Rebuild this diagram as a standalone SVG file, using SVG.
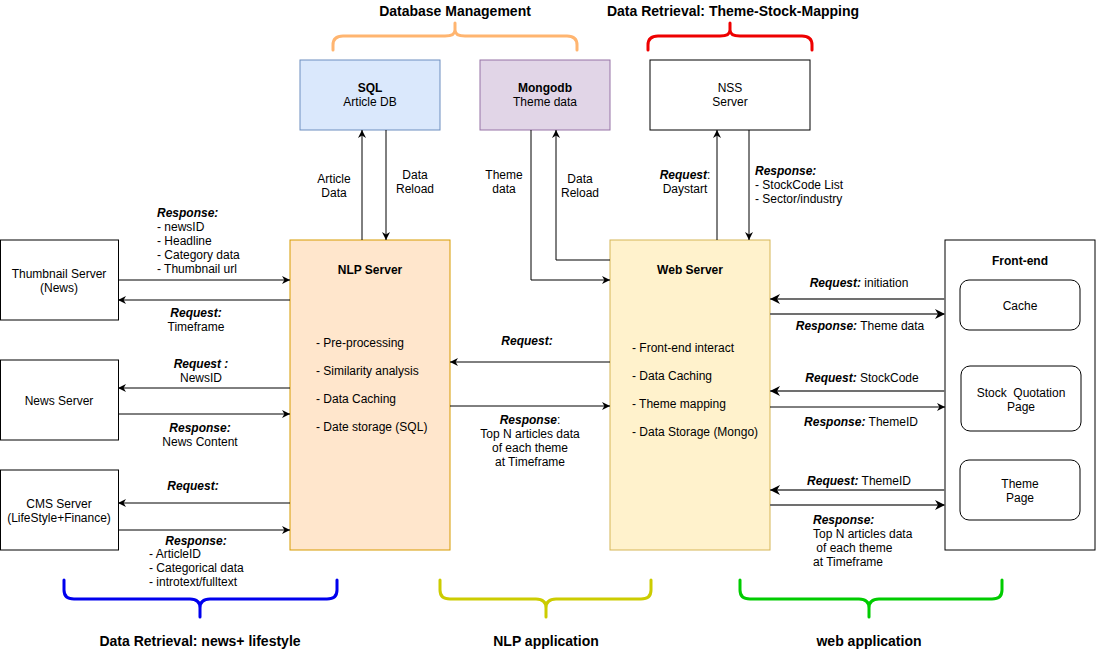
<svg xmlns="http://www.w3.org/2000/svg" width="1096" height="651" viewBox="0 0 1096 651">
<style>
text{font-family:"Liberation Sans",Arial,sans-serif;font-size:12px;fill:#000}
.c{text-anchor:middle}
.b{font-weight:bold}
.bi{font-weight:bold;font-style:italic}
.t{font-size:14px;font-weight:bold}
.box{fill:#fff;stroke:#000;stroke-width:1}
.ln{fill:none;stroke:#000;stroke-width:1}
.gr{fill:none;stroke:#707070;stroke-width:2}
.brace{fill:none;stroke-width:3;stroke-linecap:round;stroke-linejoin:round}
</style>
<defs>
<marker id="a" viewBox="0 0 10 10" refX="10" refY="5" markerWidth="8" markerHeight="8" markerUnits="userSpaceOnUse" orient="auto">
<path d="M0,0 L10,5 L0,10 L3,5 z" fill="#000"/>
</marker>
<marker id="ag" viewBox="0 0 10 10" refX="10" refY="5" markerWidth="10" markerHeight="10" markerUnits="userSpaceOnUse" orient="auto">
<path d="M0,0 L10,5 L0,10 L3,5 z" fill="#000"/>
</marker>
</defs>
<rect width="1096" height="651" fill="#fff"/>

<g id="braces">
<text class="t c" x="455" y="16">Database Management</text>
<path class="brace" stroke="#FFB570" d="M333,50 L333,45 Q333,36 343,36 L445,36 Q455,36 455,30 L455,23 M455,30 Q455,36 465,36 L567,36 Q577,36 577,45 L577,50"/>
<text class="t c" x="733" y="16">Data Retrieval: Theme-Stock-Mapping</text>
<path class="brace" stroke="#EE0000" d="M648,50 L648,45 Q648,36 658,36 L720,36 Q730,36 730,30 L730,23 M730,30 Q730,36 740,36 L802,36 Q812,36 812,45 L812,50"/>
<path class="brace" stroke="#0000EE" d="M64,580 L64,590 Q64,599 74,599 L190,599 Q200,599 200,608 L200,617 M200,608 Q200,599 210,599 L327,599 Q337,599 337,590 L337,580"/>
<text class="t c" x="200" y="646">Data Retrieval: news+ lifestyle</text>
<path class="brace" stroke="#CCCC00" d="M440,580 L440,590 Q440,599 450,599 L536,599 Q546,599 546,608 L546,617 M546,608 Q546,599 556,599 L641,599 Q651,599 651,590 L651,580"/>
<text class="t c" x="546" y="646">NLP application</text>
<path class="brace" stroke="#00CC00" d="M740,580 L740,590 Q740,599 750,599 L859,599 Q869,599 869,608 L869,617 M869,608 Q869,599 879,599 L992,599 Q1002,599 1002,590 L1002,580"/>
<text class="t c" x="869" y="646">web application</text>
</g>

<g id="sql">
<rect x="300" y="60" width="140" height="70" fill="#dae8fc" stroke="#6c8ebf"/>
<text class="c b" x="370" y="92">SQL</text>
<text class="c" x="370" y="106">Article DB</text>
</g>
<g id="mongodb">
<rect x="480" y="60" width="130" height="70" fill="#e1d5e7" stroke="#9673a6"/>
<text class="c b" x="545" y="92">Mongodb</text>
<text class="c" x="545" y="106">Theme data</text>
</g>
<g id="nss">
<rect class="box" x="650" y="60" width="160" height="70"/>
<text class="c" x="730" y="92">NSS</text>
<text class="c" x="730" y="106">Server</text>
</g>

<g id="thumbnail">
<rect class="box" x="0.5" y="240" width="118" height="80"/>
<text class="c" x="59" y="278">Thumbnail Server</text>
<text class="c" x="59" y="292">(News)</text>
</g>
<g id="news">
<rect class="box" x="0.5" y="360" width="118" height="80"/>
<text class="c" x="59" y="405">News Server</text>
</g>
<g id="cms">
<rect class="box" x="0.5" y="470" width="118" height="80"/>
<text class="c" x="59" y="508">CMS Server</text>
<text class="c" x="59" y="522">(LifeStyle+Finance)</text>
</g>

<g id="nlp">
<rect x="290" y="240" width="160" height="310" fill="#ffe6cc" stroke="#d79b00"/>
<text class="c b" x="370" y="274">NLP Server</text>
<text x="316" y="347">- Pre-processing</text>
<text x="316" y="375">- Similarity analysis</text>
<text x="316" y="403">- Data Caching</text>
<text x="316" y="431">- Date storage (SQL)</text>
</g>

<g id="web">
<rect x="610" y="240" width="160" height="310" fill="#fff2cc" stroke="#d6b656"/>
<text class="c b" x="690" y="274">Web Server</text>
<text x="632" y="352">- Front-end interact</text>
<text x="632" y="380">- Data Caching</text>
<text x="632" y="408">- Theme mapping</text>
<text x="632" y="436">- Data Storage (Mongo)</text>
</g>

<g id="frontend">
<rect class="box" x="945" y="240" width="150" height="310"/>
<text class="c b" x="1020" y="265">Front-end</text>
<rect class="box" x="960" y="280" width="120" height="50" rx="9"/>
<text class="c" x="1020" y="310">Cache</text>
<rect class="box" x="961" y="366" width="120" height="65" rx="9"/>
<text class="c" x="1021" y="397" xml:space="preserve">Stock  Quotation</text>
<text class="c" x="1021" y="411">Page</text>
<rect class="box" x="960" y="460" width="120" height="60" rx="9"/>
<text class="c" x="1020" y="488">Theme</text>
<text class="c" x="1020" y="502">Page</text>
</g>

<g id="connectors">
<path class="ln" d="M362,240 L362,130" marker-end="url(#a)"/>
<path class="ln" d="M386,130 L386,240" marker-end="url(#a)"/>
<text class="c" x="334" y="183">Article</text>
<text class="c" x="334" y="197">Data</text>
<text class="c" x="415" y="179">Data</text>
<text class="c" x="415" y="193">Reload</text>
<path class="ln" d="M531,130 L531,280 L610,280" marker-end="url(#a)"/>
<path class="ln" d="M610,260 L556,260 L556,130" marker-end="url(#a)"/>
<text class="c" x="504" y="179">Theme</text>
<text class="c" x="504" y="193">data</text>
<text class="c" x="580" y="183">Data</text>
<text class="c" x="580" y="197">Reload</text>
<path class="ln" d="M717,240 L717,130" marker-end="url(#a)"/>
<path class="ln" d="M749,130 L749,240" marker-end="url(#a)"/>
<text class="c" x="685" y="179"><tspan class="bi">Request</tspan>:</text>
<text class="c" x="685" y="193">Daystart</text>
<text class="bi" x="755" y="175">Response:</text>
<text x="755" y="189">- StockCode List</text>
<text x="755" y="203">- Sector/industry</text>
<path class="ln" d="M118,280 L290,280" marker-end="url(#a)"/>
<path class="ln" d="M290,300 L118,300" marker-end="url(#a)"/>
<text class="bi" x="157" y="217">Response:</text>
<text x="157" y="231">- newsID</text>
<text x="157" y="245">- Headline</text>
<text x="157" y="259">- Category data</text>
<text x="157" y="273">- Thumbnail url</text>
<text class="bi c" x="196" y="317">Request:</text>
<text class="c" x="196" y="331">Timeframe</text>
<path class="ln" d="M290,388 L118,388" marker-end="url(#a)"/>
<path class="ln" d="M118,414 L290,414" marker-end="url(#a)"/>
<text class="bi c" x="201" y="368">Request :</text>
<text class="c" x="201" y="382">NewsID</text>
<text class="bi c" x="200" y="432">Response:</text>
<text class="c" x="200" y="446">News Content</text>
<path class="ln" d="M290,503 L118,503" marker-end="url(#a)"/>
<path class="ln" d="M118,530 L290,530" marker-end="url(#a)"/>
<text class="bi c" x="193" y="490">Request:</text>
<text class="bi c" x="196" y="545">Response:</text>
<text x="149" y="558">- ArticleID</text>
<text x="149" y="572">- Categorical data</text>
<text x="149" y="586">- introtext/fulltext</text>
<path class="ln" d="M610,362 L450,362" marker-end="url(#a)"/>
<path class="ln" d="M450,406 L610,406" marker-end="url(#a)"/>
<text class="bi c" x="527" y="345">Request:</text>
<text class="c" x="530" y="424"><tspan class="bi">Response</tspan>:</text>
<text class="c" x="530" y="438">Top N articles data</text>
<text class="c" x="530" y="452">of each theme</text>
<text class="c" x="530" y="466">at Timeframe</text>
<path class="gr" d="M945,299 L770,299" marker-end="url(#ag)"/>
<path class="gr" d="M770,314 L945,314" marker-end="url(#ag)"/>
<path class="gr" d="M945,391 L770,391" marker-end="url(#ag)"/>
<path class="ln" d="M770,407 L945,407" marker-end="url(#a)"/>
<path class="gr" d="M945,490 L770,490" marker-end="url(#ag)"/>
<path class="gr" d="M770,505 L945,505" marker-end="url(#ag)"/>
<text class="c" x="859" y="287"><tspan class="bi">Request:</tspan> initiation</text>
<text class="c" x="860" y="330"><tspan class="bi">Response:</tspan> Theme data</text>
<text class="c" x="862" y="382"><tspan class="bi">Request:</tspan> StockCode</text>
<text class="c" x="861" y="426"><tspan class="bi">Response:</tspan> ThemeID</text>
<text class="c" x="859" y="485"><tspan class="bi">Request:</tspan> ThemeID</text>
<text class="bi" x="813" y="524">Response:</text>
<text x="813" y="538">Top N articles data</text>
<text x="813" y="552" xml:space="preserve"> of each theme</text>
<text x="813" y="566">at Timeframe</text>
</g>
</svg>
